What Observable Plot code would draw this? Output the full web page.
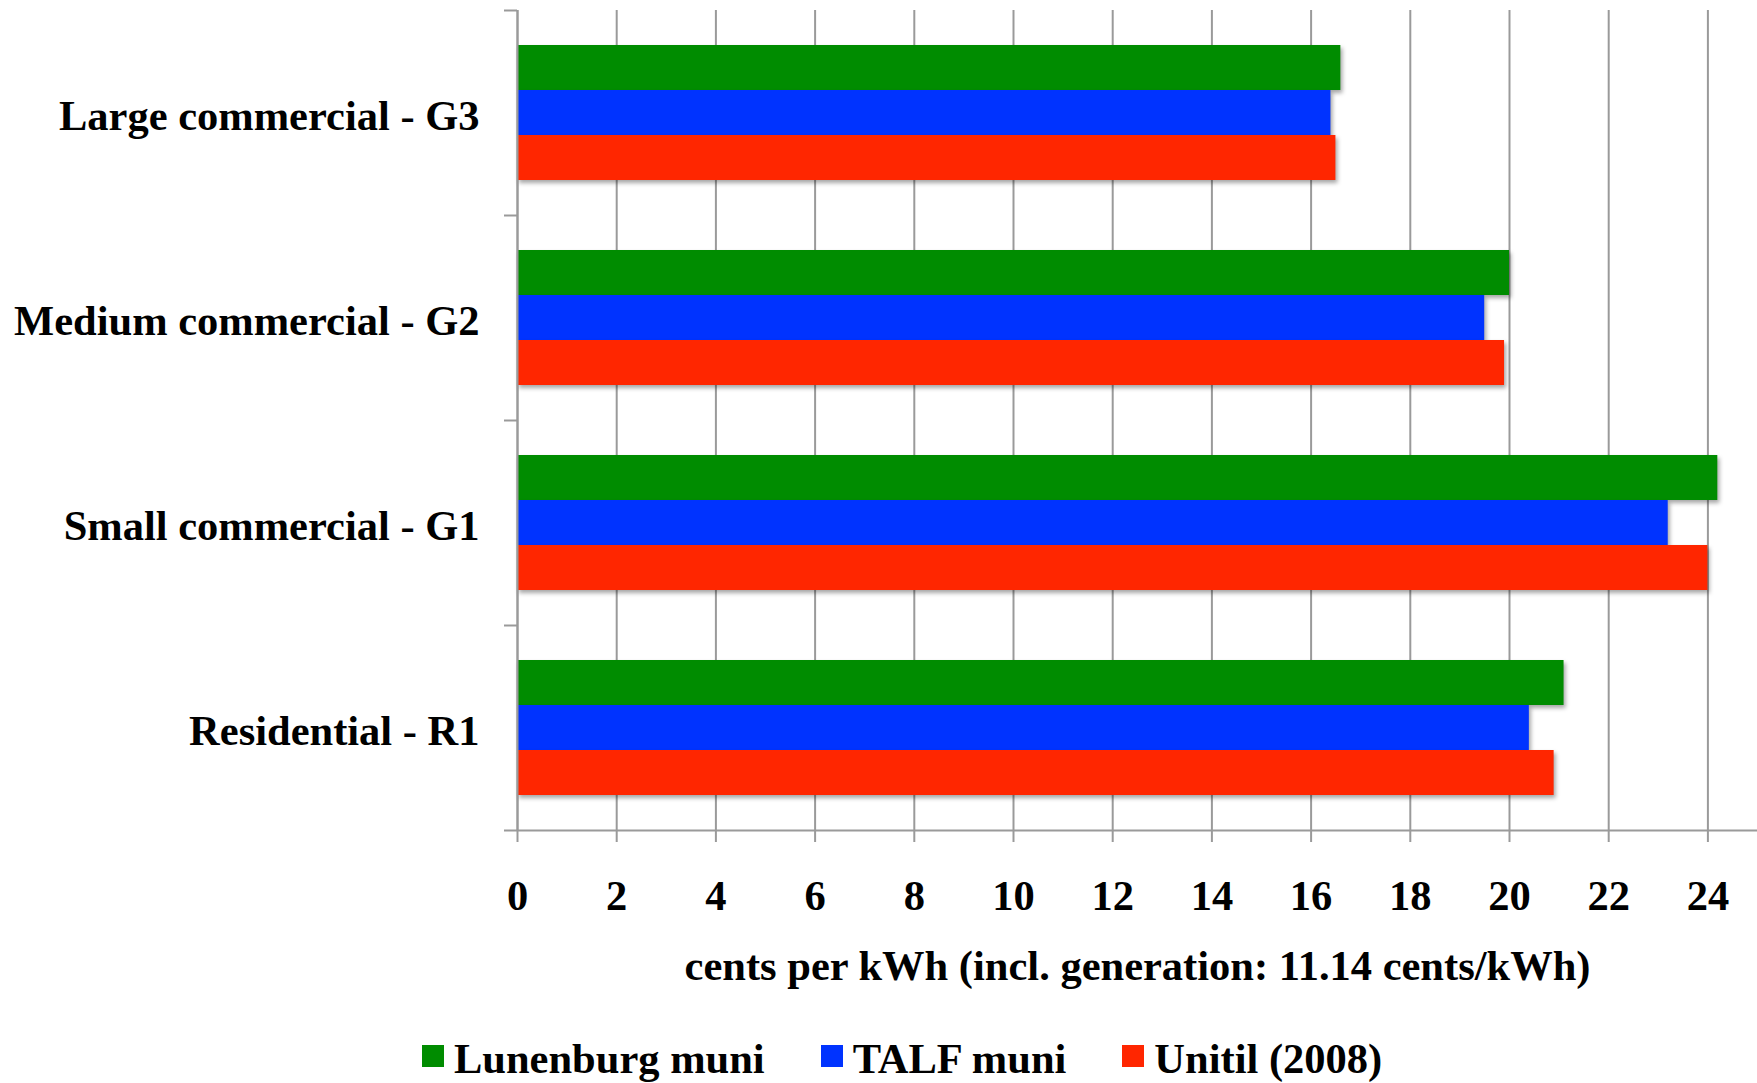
<!DOCTYPE html>
<html>
<head>
<meta charset="utf-8">
<script src="https://cdn.jsdelivr.net/npm/d3@7"></script>
<script src="https://cdn.jsdelivr.net/npm/@observablehq/plot@0.6"></script>
<style>
  html, body { margin: 0; padding: 0; background: #fff; }
  body { width: 1757px; height: 1083px; overflow: hidden; font-family: "Liberation Serif", "Times New Roman", serif; }
  #chart svg g[aria-label="bar"] rect { filter: drop-shadow(2px 3px 2px rgba(0,0,0,0.35)); }
  #legend { display: flex; align-items: center; height: 83px; padding-top: 34px; padding-left: 422px; box-sizing: border-box; }
  .item { display: flex; align-items: center; margin-right: 56px; font-size: 42.5px; font-weight: bold; color: #000; }
  .swatch { width: 22px; height: 22px; margin-right: 10px; margin-top: -6px; }
</style>
</head>
<body>
<div id="chart"></div>
<div id="legend"></div>
<script>
// Customer classes, top to bottom
const categories = ["Large commercial - G3", "Medium commercial - G2", "Small commercial - G1", "Residential - R1"];
// Rate series
const series = ["Lunenburg muni", "TALF muni", "Unitil (2008)"];
const colors = ["#008C00", "#0033FF", "#FF2600"];
// cents per kWh, in the order of categories
const lunenburg = [16.6, 20.0, 24.2, 21.1];
const talf = [16.4, 19.5, 23.2, 20.4];
const unitil = [16.5, 19.9, 24.0, 20.9];
const xTicks = [0, 2, 4, 6, 8, 10, 12, 14, 16, 18, 20, 22, 24];
const xLabel = "cents per kWh (incl. generation: 11.14 cents/kWh)";

const valuesBySeries = [lunenburg, talf, unitil];
const rows = series.flatMap((s, si) =>
  categories.map((c, ci) => ({category: c, series: s, value: valuesBySeries[si][ci]}))
);

const W = 1757, H = 1000, mTop = 10, mBottom = 170, mLeft = 517;
const facetStep = (H - mTop - mBottom) / categories.length;
const font = "Liberation Serif, Times New Roman, serif";
const gray = "#9a9a9a";
const textSize = 42.5;

const chart = Plot.plot({
  width: W,
  height: H,
  marginTop: mTop,
  marginBottom: mBottom,
  marginLeft: mLeft,
  marginRight: 0,
  style: {fontFamily: font, background: "#fff", color: "#000"},
  x: {domain: [0, 25]},
  y: {domain: series, paddingInner: 0, paddingOuter: 0.743, axis: null},
  fy: {domain: categories, padding: 0, axis: null},
  color: {domain: series, range: colors},
  marks: [
    Plot.gridX({ticks: xTicks, stroke: gray, strokeOpacity: 1, strokeWidth: 2}),
    Plot.barX(rows, {x: "value", y: "series", fy: "category", fill: "series"}),
    // y-axis line
    Plot.ruleX([0], {stroke: gray, strokeWidth: 2}),
    // category boundary ticks
    Plot.axisFy({anchor: "left", text: null, label: null, tickSize: 13, stroke: gray, strokeWidth: 2, dy: -facetStep / 2}),
    // x-axis line along the bottom of the last facet
    Plot.ruleY([categories[categories.length - 1]], {fy: (d) => d, y: null, stroke: gray, strokeWidth: 2, insetLeft: -13, dy: facetStep / 2}),
    // category labels
    Plot.axisFy({anchor: "left", tickSize: 0, tickPadding: 38, dy: 3, fontSize: textSize, fontWeight: "bold", label: null}),
    Plot.axisX({
      ticks: xTicks,
      tickSize: 12,
      tickPadding: 37,
      stroke: gray,
      strokeWidth: 2,
      fontSize: textSize,
      fontWeight: "bold",
      label: xLabel,
      labelAnchor: "center",
      labelArrow: "none",
      labelOffset: 149
    })
  ]
});
document.getElementById("chart").appendChild(chart);

// Legend below the chart
const legend = d3.select("#legend");
series.forEach((s, i) => {
  const item = legend.append("div").attr("class", "item");
  item.append("div").attr("class", "swatch").style("background", colors[i]);
  item.append("span").text(s);
});
</script>
</body>
</html>
